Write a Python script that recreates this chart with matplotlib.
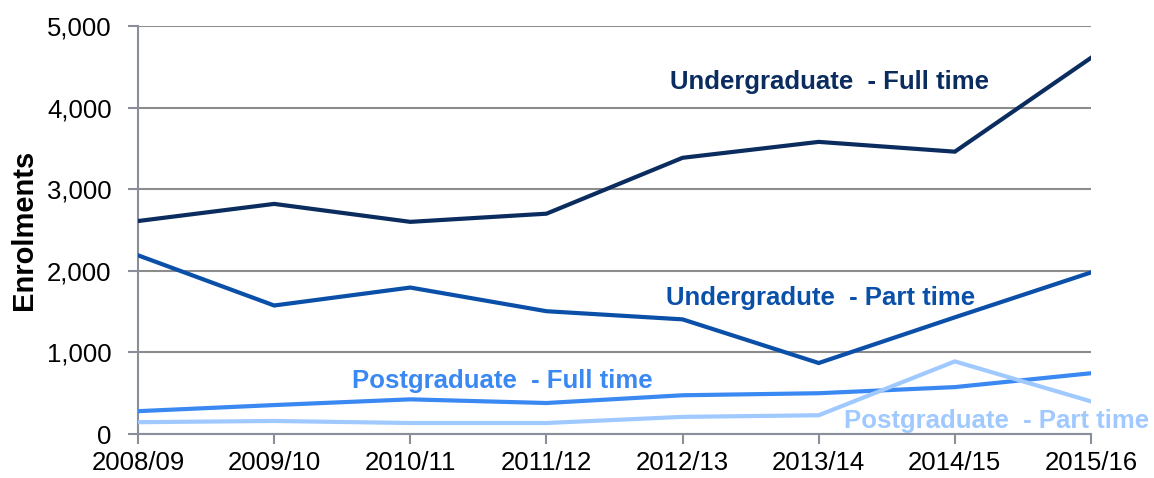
import matplotlib.pyplot as plt
import numpy as np

plt.rcParams["font.family"] = ["Liberation Sans", "DejaVu Sans"]

years = ["2008/09", "2009/10", "2010/11", "2011/12", "2012/13", "2013/14", "2014/15", "2015/16"]
ug_full = [2610, 2820, 2600, 2700, 3385, 3580, 3460, 4610]
ug_part = [2190, 1575, 1795, 1505, 1405, 870, 1430, 1980]
pg_full = [280, 355, 425, 380, 475, 500, 575, 745]
pg_part = [145, 160, 135, 135, 210, 230, 890, 400]

series = [
    ("Undergraduate  - Full time", ug_full, "#0b2c5f", (0.726, 0.863)),
    ("Undergradute  - Part time", ug_part, "#0a4fa8", (0.716, 0.333)),
    ("Postgraduate  - Full time", pg_full, "#3a88f2", (0.382, 0.130)),
    ("Postgraduate  - Part time", pg_part, "#9fc9ff", (0.901, 0.032)),
]


def main():
    fig = plt.figure(figsize=(11.54, 4.78), dpi=100)
    ax = fig.add_axes([0.1196, 0.092, 0.8258, 0.8536])

    x = np.arange(len(years))
    for label, vals, color, pos in series:
        ax.plot(x, vals, color=color, lw=3, solid_joinstyle="miter", zorder=3)
        ax.text(pos[0], pos[1], label, transform=ax.transAxes, color=color,
                fontsize=18.5, fontweight="bold", ha="center", va="center", zorder=4)

    ax.set_xlim(0, len(years) - 1)
    ax.set_ylim(0, 5000)
    ax.set_xticks(x)
    ax.set_xticklabels(years)
    ax.set_yticks(np.arange(0, 5001, 1000))
    ax.set_yticklabels([f"{v:,}" for v in range(0, 5001, 1000)])
    ax.tick_params(axis="both", labelsize=18.5, color="#8a8d9a", length=7, width=1.5)
    ax.tick_params(axis="x", pad=5)
    ax.tick_params(axis="y", pad=12)
    ax.grid(axis="y", color="#8c8c8c", lw=1.5)
    ax.set_axisbelow(True)

    for side in ["top", "right"]:
        ax.spines[side].set_visible(False)
    for side in ["left", "bottom"]:
        ax.spines[side].set_color("#8a8d9a")
        ax.spines[side].set_linewidth(1.5)

    ax.set_ylabel("Enrolments", fontsize=21, fontweight="bold")
    ax.yaxis.set_label_coords(-0.105, 0.5)

    fig.savefig("out.png", dpi=100)


if __name__ == "__main__":
    main()
